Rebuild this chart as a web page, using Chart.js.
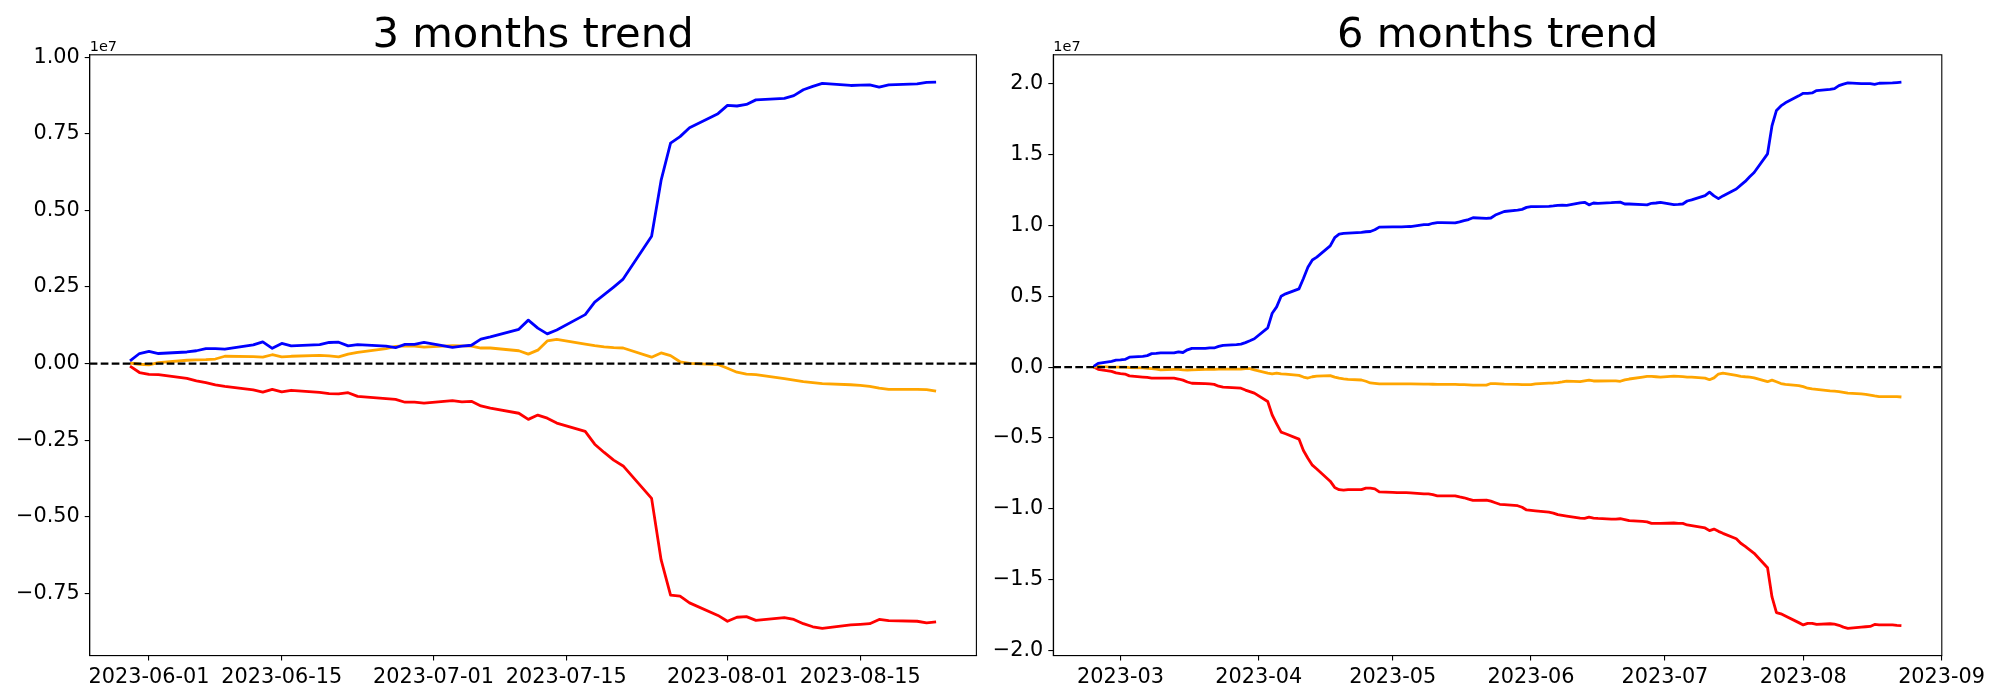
<!DOCTYPE html>
<html>
<head>
<meta charset="utf-8">
<title>trend</title>
<script src="https://cdn.jsdelivr.net/npm/chart.js@4.4.0/dist/chart.umd.min.js"></script>
<style>
html, body { margin: 0; padding: 0; background: #fff; }
#wrap { position: relative; width: 2000px; height: 700px; overflow: hidden; }
canvas { position: absolute; top: 0; }
</style>
</head>
<body>
<div id="wrap">
  <canvas id="chart_3m" width="985" height="700" style="left:0px"></canvas>
  <canvas id="chart_6m" width="1015" height="700" style="left:985px"></canvas>
</div>
<script>
// values are in millions, axis shows them in units of 1e7

// ---- 3 months ----
var dates3m = [
  "2023-05-30","2023-05-31","2023-06-01","2023-06-02","2023-06-05","2023-06-06","2023-06-07","2023-06-08","2023-06-09",
  "2023-06-12","2023-06-13","2023-06-14","2023-06-15","2023-06-16","2023-06-19","2023-06-20","2023-06-21","2023-06-22",
  "2023-06-23","2023-06-26","2023-06-27","2023-06-28","2023-06-29","2023-06-30","2023-07-03","2023-07-04","2023-07-05",
  "2023-07-06","2023-07-07","2023-07-10","2023-07-11","2023-07-12","2023-07-13","2023-07-14","2023-07-17","2023-07-18",
  "2023-07-19","2023-07-20","2023-07-21","2023-07-24","2023-07-25","2023-07-26","2023-07-27","2023-07-28","2023-07-31",
  "2023-08-01","2023-08-02","2023-08-03","2023-08-04","2023-08-07","2023-08-08","2023-08-09","2023-08-10","2023-08-11",
  "2023-08-14","2023-08-15","2023-08-16","2023-08-17","2023-08-18","2023-08-21","2023-08-22","2023-08-23"
];
var blue3m = [
  0.09, 0.33, 0.40, 0.33, 0.38, 0.42, 0.49, 0.49, 0.47,
  0.61, 0.71, 0.50, 0.66, 0.58, 0.62, 0.69, 0.70, 0.58,
  0.62, 0.57, 0.52, 0.63, 0.63, 0.69, 0.53, 0.57, 0.60,
  0.80, 0.87, 1.12, 1.42, 1.16, 0.97, 1.10, 1.60, 2.01,
  2.25, 2.50, 2.76, 4.16, 5.98, 7.20, 7.41, 7.70, 8.16,
  8.43, 8.41, 8.46, 8.61, 8.66, 8.75, 8.94, 9.05, 9.15,
  9.08, 9.09, 9.10, 9.03, 9.10, 9.13, 9.18, 9.19
];
var orange3m = [
  0.02, -0.02, -0.04, 0.03, 0.11, 0.12, 0.13, 0.15, 0.24,
  0.23, 0.21, 0.29, 0.22, 0.24, 0.27, 0.25, 0.22, 0.31,
  0.37, 0.49, 0.56, 0.58, 0.57, 0.54, 0.59, 0.58, 0.57,
  0.51, 0.51, 0.42, 0.31, 0.44, 0.74, 0.79, 0.64, 0.59,
  0.55, 0.52, 0.51, 0.21, 0.35, 0.26, 0.06, 0.01, -0.03,
  -0.15, -0.28, -0.34, -0.36, -0.49, -0.54, -0.59, -0.62, -0.65,
  -0.69, -0.71, -0.74, -0.80, -0.84, -0.84, -0.85, -0.90
];
var red3m = [
  -0.08, -0.29, -0.35, -0.36, -0.48, -0.56, -0.62, -0.69, -0.74,
  -0.86, -0.93, -0.84, -0.92, -0.87, -0.94, -0.98, -0.99, -0.95,
  -1.07, -1.14, -1.17, -1.26, -1.26, -1.29, -1.21, -1.25, -1.23,
  -1.38, -1.45, -1.62, -1.82, -1.68, -1.78, -1.94, -2.21, -2.63,
  -2.90, -3.15, -3.34, -4.40, -6.40, -7.56, -7.59, -7.81, -8.22,
  -8.41, -8.28, -8.26, -8.38, -8.29, -8.35, -8.49, -8.59, -8.64,
  -8.53, -8.51, -8.49, -8.35, -8.39, -8.41, -8.46, -8.43
];
var xTicks3m = ["2023-06-01","2023-06-15","2023-07-01","2023-07-15","2023-08-01","2023-08-15"];
var yTicks3m = [-7.5, -5, -2.5, 0, 2.5, 5, 7.5, 10];

// ---- 6 months ----
var dates6m = [
  "2023-02-23","2023-02-24","2023-02-27","2023-02-28",
  "2023-03-01","2023-03-02","2023-03-03","2023-03-06","2023-03-07","2023-03-08","2023-03-09","2023-03-10",
  "2023-03-13","2023-03-14","2023-03-15","2023-03-16","2023-03-17","2023-03-20","2023-03-21","2023-03-22",
  "2023-03-23","2023-03-24","2023-03-27","2023-03-28","2023-03-29","2023-03-30","2023-03-31",
  "2023-04-03","2023-04-04","2023-04-05","2023-04-06","2023-04-07","2023-04-10","2023-04-11","2023-04-12",
  "2023-04-13","2023-04-14","2023-04-17","2023-04-18","2023-04-19","2023-04-20","2023-04-21","2023-04-24",
  "2023-04-25","2023-04-26","2023-04-27","2023-04-28",
  "2023-05-01","2023-05-02","2023-05-03","2023-05-04","2023-05-05","2023-05-08","2023-05-09","2023-05-10",
  "2023-05-11","2023-05-12","2023-05-15","2023-05-16","2023-05-17","2023-05-18","2023-05-19","2023-05-22",
  "2023-05-23","2023-05-24","2023-05-25","2023-05-26","2023-05-29","2023-05-30","2023-05-31",
  "2023-06-01","2023-06-02","2023-06-05","2023-06-06","2023-06-07","2023-06-08","2023-06-09","2023-06-12",
  "2023-06-13","2023-06-14","2023-06-15","2023-06-16","2023-06-19","2023-06-20","2023-06-21","2023-06-22",
  "2023-06-23","2023-06-26","2023-06-27","2023-06-28","2023-06-29","2023-06-30",
  "2023-07-03","2023-07-04","2023-07-05","2023-07-06","2023-07-07","2023-07-10","2023-07-11","2023-07-12",
  "2023-07-13","2023-07-14","2023-07-17","2023-07-18","2023-07-19","2023-07-20","2023-07-21","2023-07-24",
  "2023-07-25","2023-07-26","2023-07-27","2023-07-28","2023-07-31",
  "2023-08-01","2023-08-02","2023-08-03","2023-08-04","2023-08-07","2023-08-08","2023-08-09","2023-08-10",
  "2023-08-11","2023-08-14","2023-08-15","2023-08-16","2023-08-17","2023-08-18","2023-08-21","2023-08-22",
  "2023-08-23"
];
var blue6m = [
  0.05, 0.27, 0.41, 0.49,
  0.51, 0.54, 0.70, 0.76, 0.81, 0.95, 0.97, 1.00,
  1.00, 1.08, 1.03, 1.22, 1.32, 1.32, 1.35, 1.35,
  1.46, 1.54, 1.59, 1.62, 1.73, 1.86, 2.00,
  2.77, 3.80, 4.25, 5.00, 5.17, 5.52, 6.25, 7.04,
  7.56, 7.76, 8.55, 9.13, 9.38, 9.43, 9.45, 9.51,
  9.55, 9.57, 9.69, 9.88,
  9.90, 9.90, 9.90, 9.91, 9.92, 10.06, 10.06, 10.15,
  10.20, 10.20, 10.18, 10.25, 10.34, 10.41, 10.54, 10.50,
  10.52, 10.73, 10.86, 10.98, 11.07, 11.13, 11.27,
  11.33, 11.32, 11.34, 11.37, 11.41, 11.42, 11.41, 11.59,
  11.63, 11.45, 11.58, 11.56, 11.60, 11.63, 11.64, 11.51,
  11.51, 11.46, 11.45, 11.56, 11.58, 11.63,
  11.46, 11.48, 11.51, 11.72, 11.80, 12.10, 12.35, 12.08,
  11.89, 12.08, 12.57, 12.84, 13.10, 13.43, 13.73, 15.05,
  17.03, 18.11, 18.43, 18.65, 19.14,
  19.32, 19.32, 19.35, 19.51, 19.59, 19.65, 19.86, 19.97,
  20.05, 20.00, 20.00, 20.00, 19.95, 20.03, 20.05, 20.08,
  20.11
];
var orange6m = [
  0.00, 0.05, 0.00, 0.00,
  0.00, 0.00, -0.03, -0.05, -0.08, -0.11, -0.14, -0.19,
  -0.16, -0.16, -0.19, -0.22, -0.19, -0.16, -0.16, -0.16,
  -0.14, -0.14, -0.14, -0.14, -0.11, -0.11, -0.19,
  -0.42, -0.48, -0.42, -0.48, -0.49, -0.58, -0.70, -0.77,
  -0.68, -0.64, -0.60, -0.71, -0.78, -0.83, -0.87, -0.91,
  -1.00, -1.12, -1.15, -1.18,
  -1.18, -1.18, -1.18, -1.18, -1.19, -1.20, -1.20, -1.21,
  -1.22, -1.22, -1.22, -1.23, -1.24, -1.25, -1.27, -1.27,
  -1.16, -1.17, -1.18, -1.20, -1.22, -1.23, -1.24,
  -1.24, -1.18, -1.13, -1.12, -1.09, -1.05, -0.99, -1.02,
  -0.97, -0.92, -0.98, -0.98, -0.97, -0.97, -1.00, -0.90,
  -0.84, -0.70, -0.66, -0.66, -0.68, -0.70,
  -0.63, -0.65, -0.67, -0.70, -0.71, -0.78, -0.89, -0.76,
  -0.49, -0.43, -0.59, -0.65, -0.68, -0.70, -0.76, -1.03,
  -0.92, -1.03, -1.16, -1.22, -1.30,
  -1.38, -1.49, -1.54, -1.57, -1.68, -1.70, -1.73, -1.78,
  -1.84, -1.89, -1.92, -1.97, -2.03, -2.08, -2.08, -2.08,
  -2.11
];
var red6m = [
  0.00, -0.16, -0.30, -0.41,
  -0.46, -0.49, -0.62, -0.70, -0.73, -0.78, -0.78, -0.78,
  -0.78, -0.84, -0.92, -1.05, -1.14, -1.16, -1.19, -1.22,
  -1.35, -1.41, -1.46, -1.49, -1.62, -1.73, -1.84,
  -2.43, -3.38, -4.00, -4.59, -4.70, -5.08, -5.89, -6.43,
  -6.92, -7.19, -8.05, -8.49, -8.65, -8.68, -8.65, -8.65,
  -8.54, -8.54, -8.59, -8.81,
  -8.84, -8.86, -8.86, -8.86, -8.87, -8.95, -8.95, -9.00,
  -9.08, -9.08, -9.08, -9.16, -9.22, -9.32, -9.41, -9.38,
  -9.46, -9.57, -9.68, -9.70, -9.78, -9.89, -10.08,
  -10.11, -10.14, -10.24, -10.30, -10.41, -10.46, -10.51, -10.65,
  -10.68, -10.59, -10.65, -10.68, -10.73, -10.73, -10.70, -10.76,
  -10.84, -10.89, -10.92, -11.03, -11.03, -11.03,
  -11.00, -11.03, -11.03, -11.14, -11.19, -11.35, -11.54, -11.43,
  -11.59, -11.73, -12.11, -12.43, -12.65, -12.89, -13.14, -14.16,
  -16.22, -17.32, -17.41, -17.57, -18.03,
  -18.19, -18.08, -18.08, -18.16, -18.11, -18.14, -18.22, -18.35,
  -18.43, -18.35, -18.32, -18.30, -18.16, -18.19, -18.19, -18.22,
  -18.24
];
var xTicks6m = ["2023-03","2023-04","2023-05","2023-06","2023-07","2023-08","2023-09"];
var yTicks6m = [-20, -15, -10, -5, 0, 5, 10, 15, 20];

Chart.defaults.font.family = "'DejaVu Sans', sans-serif";
Chart.defaults.color = "#000";

function toDay(s) {
  var p = s.split("-");
  return Date.UTC(+p[0], (+p[1]) - 1, p.length > 2 ? +p[2] : 1) / 86400000;
}

function points(dates, vals) {
  return dates.map(function (d, i) { return { x: toDay(d), y: vals[i] }; });
}

function minusSign(s) { return s.replace("-", "\u2212"); }

// draws title, 1e7 offset text, dashed zero line and the box
var decoPlugin = {
  id: "deco",
  afterDatasetsDraw: function (chart) {
    var ctx = chart.ctx, a = chart.chartArea;
    var y0 = chart.scales.y.getPixelForValue(0);
    ctx.save();
    ctx.strokeStyle = "#000";
    ctx.lineWidth = 2.1;
    ctx.setLineDash([7.7, 3.3]);
    ctx.beginPath();
    ctx.moveTo(a.left, y0);
    ctx.lineTo(a.right, y0);
    ctx.stroke();
    ctx.restore();
  },
  afterDraw: function (chart, args, opts) {
    var ctx = chart.ctx, a = chart.chartArea;
    ctx.save();
    ctx.strokeStyle = "#000";
    ctx.lineWidth = 1.1;
    ctx.strokeRect(a.left, a.top, a.right - a.left, a.bottom - a.top);
    ctx.fillStyle = "#000";
    ctx.textBaseline = "alphabetic";
    ctx.textAlign = "center";
    ctx.font = "41.7px 'DejaVu Sans'";
    ctx.fillText(opts.title, (a.left + a.right) / 2, a.top - 8);
    ctx.textAlign = "left";
    ctx.font = "14.5px 'DejaVu Sans'";
    ctx.fillText("1e7", a.left, a.top - 4);
    ctx.restore();
  }
};

function makeChart(id, title, dates, blue, orange, red, xTicks, yTicks, yDec, axisLeft, axisRight) {
  var canvas = document.getElementById(id);
  var xs = dates.map(toDay);
  var xMin = Math.min.apply(null, xs), xMax = Math.max.apply(null, xs);
  var xPad = (xMax - xMin) * 0.05;
  var all = blue.concat(orange, red);
  var lo = Math.min.apply(null, all), hi = Math.max.apply(null, all);
  var yPad = (hi - lo) * 0.05;

  var lineStyle = function (color) {
    return {
      borderColor: color, borderWidth: 2.8, pointRadius: 0, tension: 0,
      fill: false, borderJoinStyle: "round", borderCapStyle: "butt"
    };
  };

  var gridStyle = { display: true, drawOnChartArea: false, drawTicks: true, tickLength: 5, color: "#000", lineWidth: 1.1 };

  return new Chart(canvas.getContext("2d"), {
    type: "line",
    data: {
      datasets: [
        Object.assign({ label: "blue", data: points(dates, blue) }, lineStyle("#0000ff")),
        Object.assign({ label: "orange", data: points(dates, orange) }, lineStyle("#ffa500")),
        Object.assign({ label: "red", data: points(dates, red) }, lineStyle("#ff0000"))
      ]
    },
    options: {
      animation: false,
      responsive: false,
      devicePixelRatio: 1,
      layout: { padding: { left: 0, top: 54.8, right: canvas.width - axisRight, bottom: 0 } },
      plugins: {
        legend: { display: false },
        tooltip: { enabled: false },
        title: { display: false },
        deco: { title: title }
      },
      scales: {
        x: {
          type: "linear",
          min: xMin - xPad,
          max: xMax + xPad,
          afterBuildTicks: function (s) { s.ticks = xTicks.map(function (t) { return { value: toDay(t) }; }); },
          afterFit: function (s) { s.height = 44.4; },
          ticks: {
            autoSkip: false, maxRotation: 0, padding: 5,
            font: { size: 20.8 }, color: "#000",
            callback: function (v, i) { return xTicks[i]; }
          },
          grid: gridStyle,
          border: { display: true, color: "#000", width: 1.1 }
        },
        y: {
          min: lo - yPad,
          max: hi + yPad,
          afterBuildTicks: function (s) { s.ticks = yTicks.map(function (v) { return { value: v }; }); },
          afterFit: function (s) { s.width = axisLeft; },
          ticks: {
            padding: 5, font: { size: 20.8 }, color: "#000",
            callback: function (v) { return minusSign((v / 10).toFixed(yDec)); }
          },
          grid: gridStyle,
          border: { display: true, color: "#000", width: 1.1 }
        }
      }
    },
    plugins: [decoPlugin]
  });
}

makeChart("chart_3m", "3 months trend", dates3m, blue3m, orange3m, red3m, xTicks3m, yTicks3m, 2, 89.7, 976.4);
makeChart("chart_6m", "6 months trend", dates6m, blue6m, orange6m, red6m, xTicks6m, yTicks6m, 1, 68.3, 956.8);
</script>
</body>
</html>
